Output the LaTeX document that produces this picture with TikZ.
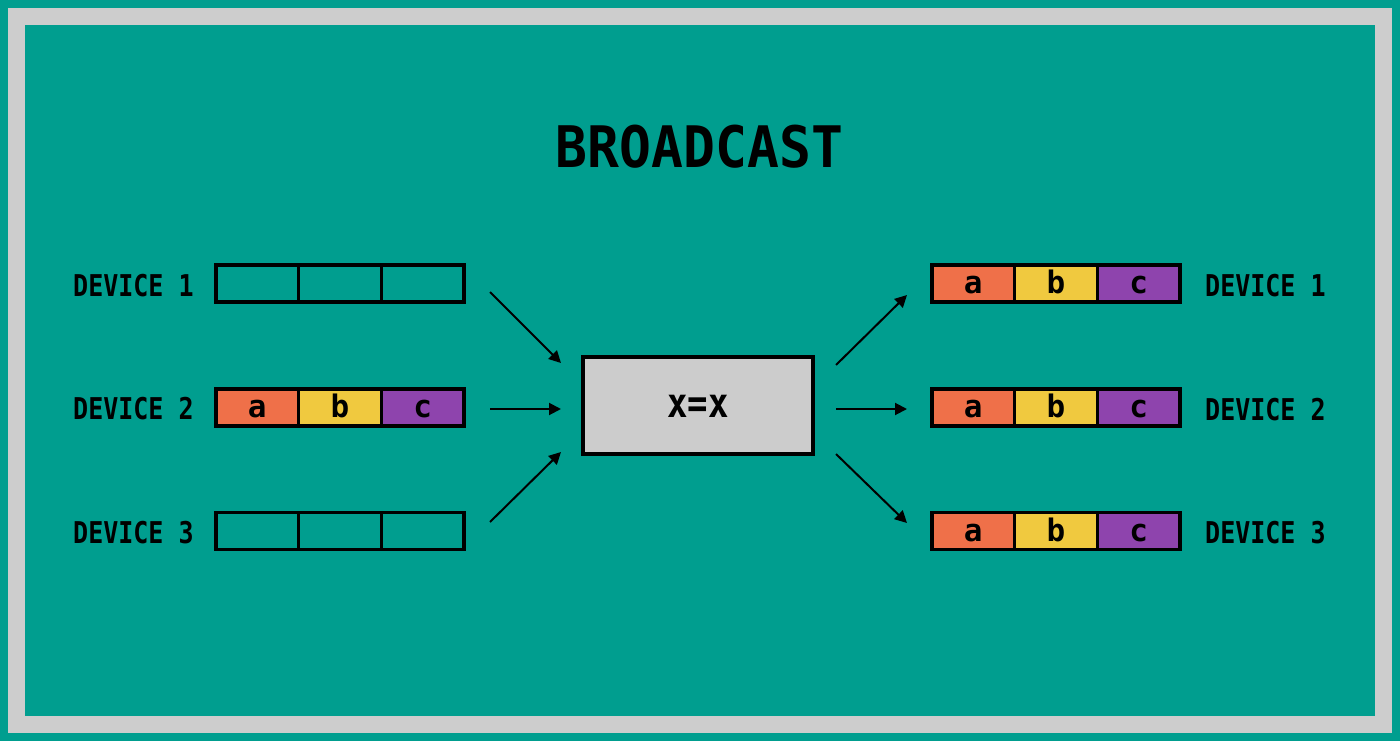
\documentclass[tikz,border=0pt]{standalone}
\usepackage{fontspec}
\newfontfamily\pixfont{DejaVu Sans Mono}
\usetikzlibrary{arrows.meta}
\definecolor{teal1}{HTML}{009E8F}
\definecolor{frame1}{HTML}{CDCDCD}
\definecolor{hubgray}{HTML}{CCCCCC}
\definecolor{cella}{HTML}{EF7049}
\definecolor{cellb}{HTML}{F0C93F}
\definecolor{cellc}{HTML}{8E44AD}
\tikzset{
  cell/.style={draw=black, line width=3.5pt, minimum width=82.7pt, minimum height=37pt, inner sep=0pt, outer sep=0pt,
               text height=20pt, text depth=0pt, font=\pixfont\bfseries\fontsize{31}{31}\selectfont},
  devlabel/.style={anchor=west, inner sep=0pt, font=\pixfont\bfseries\fontsize{25}{25}\selectfont},
  flow/.style={line width=2pt, -{Triangle[length=12pt,width=12pt]}}
}
\newcommand{\tall}[1]{\scalebox{1}[1.2]{#1}}
\begin{document}
\begin{tikzpicture}[x=1pt, y=-1pt]
  % Rahmen
  \fill[teal1] (0,0) rectangle (1400,741);
  \fill[frame1] (8,8) rectangle (1392,733);
  \fill[teal1] (25,25) rectangle (1375,716);
  \useasboundingbox (0,0) rectangle (1400,741);

  % Titel
  \node[inner sep=0pt, font=\pixfont\bfseries\fontsize{53}{53}\selectfont] (title) at (699.5,147) {\scalebox{1}[1.08]{BROADCAST}};

  % Zentrale Box
  \node[draw=black, fill=hubgray, line width=3.5pt, minimum width=230pt, minimum height=97pt, inner sep=0pt,
        text height=24pt, text depth=0pt, font=\pixfont\bfseries\fontsize{34}{34}\selectfont] (hub) at (698,405.5) {\tall{x=x}};

  % Linke Geraete
  \node[devlabel] (ll1) at (73,286) {\tall{DEVICE 1}};
  \node[devlabel] (ll2) at (73,409) {\tall{DEVICE 2}};
  \node[devlabel] (ll3) at (73,533) {\tall{DEVICE 3}};
  \node[cell] (l1a) at (257.3,283.5) {};
  \node[cell] (l1b) at (340,283.5) {};
  \node[cell] (l1c) at (422.7,283.5) {};
  \node[cell, fill=cella] (l2a) at (257.3,407.5) {a};
  \node[cell, fill=cellb] (l2b) at (340,407.5) {b};
  \node[cell, fill=cellc] (l2c) at (422.7,407.5) {c};
  \node[cell] (l3a) at (257.3,531) {};
  \node[cell] (l3b) at (340,531) {};
  \node[cell] (l3c) at (422.7,531) {};

  % Rechte Geraete
  \foreach \r/\y in {1/283.5, 2/407.5, 3/531} {
    \node[cell, fill=cella] (r\r a) at (973.3,\y) {a};
    \node[cell, fill=cellb] (r\r b) at (1056,\y) {b};
    \node[cell, fill=cellc] (r\r c) at (1138.7,\y) {c};
    \node[devlabel] (rl\r) at (1205,\y+2) {\tall{DEVICE \r}};
  }

  % Pfeile
  \coordinate (in1) at (490,292);   \coordinate (hubin1) at (561,363);
  \coordinate (in2) at (490,409);   \coordinate (hubin2) at (561,409);
  \coordinate (in3) at (490,522);   \coordinate (hubin3) at (561,452);
  \coordinate (hubout1) at (836,365); \coordinate (out1) at (907,295);
  \coordinate (hubout2) at (836,409); \coordinate (out2) at (907,409);
  \coordinate (hubout3) at (836,454); \coordinate (out3) at (907,523);
  \draw[flow] (in1) -- (hubin1);
  \draw[flow] (in2) -- (hubin2);
  \draw[flow] (in3) -- (hubin3);
  \draw[flow] (hubout1) -- (out1);
  \draw[flow] (hubout2) -- (out2);
  \draw[flow] (hubout3) -- (out3);
\end{tikzpicture}
\end{document}
